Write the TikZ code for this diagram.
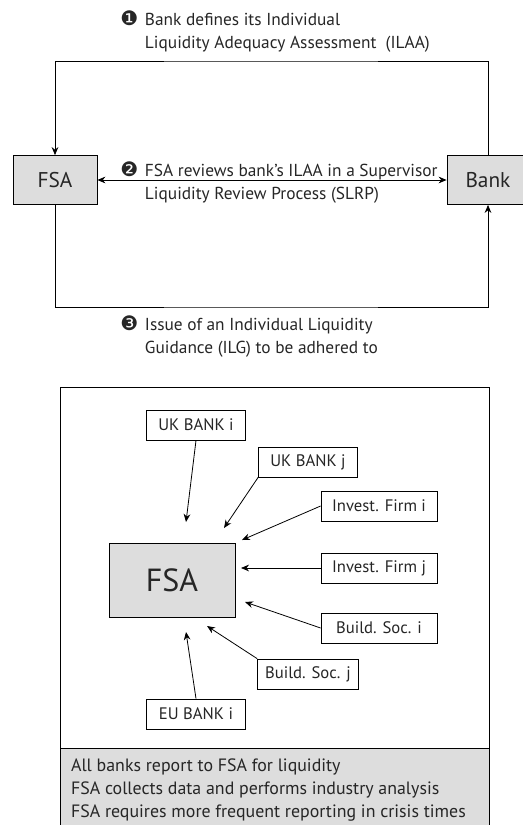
\documentclass[tikz,border=0pt]{standalone}
\usepackage{fontspec}
\setmainfont{PT Sans}
\newfontfamily\symfont{DejaVu Sans}
\usetikzlibrary{arrows.meta}

\definecolor{boxgray}{HTML}{DDDDDD}
\definecolor{inkgray}{HTML}{262626}
\newcommand{\stepmark}[1]{{\symfont\fontsize{15}{15}\selectfont #1}}

\tikzset{
    box/.style={draw, fill=boxgray, minimum width=63pt, minimum height=36.75pt, font=\fontsize{16}{18}\selectfont},
    member/.style={draw, fill=white, minimum height=22.5pt, inner sep=2pt, font=\fontsize{12.5}{14}\selectfont},
    note/.style={inner sep=0pt, anchor=west, font=\fontsize{13}{17.25}\selectfont},
}

\begin{document}
\begin{tikzpicture}[x=0.75pt, y=-0.75pt, >={Stealth[length=6pt,width=5pt]}, text=inkgray, line width=0.6pt]
    \useasboundingbox (0,0) rectangle (523,825);

    % cycle between FSA and bank
    \node[box] (fsa) at (55,180) {FSA};
    \node[box, minimum width=61.5pt] (bank) at (488,180) {Bank};

    \node[note] (stepone) at (120,32) {%
        \begin{tabular}{@{}l@{\hspace{5pt}}l@{}}
            \stepmark{❶} & Bank defines its Individual\\
                         & Liquidity Adequacy Assessment\ \ (ILAA)
        \end{tabular}};
    \node[note] (steptwo) at (120,183) {%
        \begin{tabular}{@{}l@{\hspace{5pt}}l@{}}
            \stepmark{❷} & FSA reviews bank's ILAA in a Supervisor\\
                         & Liquidity Review Process (SLRP)
        \end{tabular}};
    \node[note] (stepthree) at (120,337) {%
        \begin{tabular}{@{}l@{\hspace{5pt}}l@{}}
            \stepmark{❸} & Issue of an Individual Liquidity\\
                         & Guidance (ILG) to be adhered to
        \end{tabular}};

    \coordinate (toprail) at (270,61);
    \coordinate (bottomrail) at (270,307);

    \draw[->] (bank.north) |- (toprail) -| (fsa.north);
    \draw[<->] (fsa.east) -- (bank.west);
    \draw[->] (fsa.south) |- (bottomrail) -| (bank.south);

    % reporting to FSA
    \draw (60,387) rectangle (489,840);
    \draw[fill=boxgray] (60,748) rectangle (489,840);
    \node[anchor=north west, align=left, inner xsep=8pt, inner ysep=7.5pt,
          font=\fontsize{13.4}{17.25}\selectfont] (summary) at (60,748) {%
        All banks report to FSA for liquidity\\
        FSA collects data and performs industry analysis\\
        FSA requires more frequent reporting in crisis times};

    \node[box, minimum width=94.5pt, minimum height=55.5pt, font=\fontsize{24}{26}\selectfont] (fsabig) at (172,580) {FSA};

    \node[member, minimum width=74.25pt] (ukbanki) at (196,425) {UK BANK i};
    \node[member, minimum width=74.25pt] (ukbankj) at (308,462) {UK BANK j};
    \node[member, minimum width=87pt] (investi) at (379,506) {Invest. Firm i};
    \node[member, minimum width=87pt] (investj) at (379,568) {Invest. Firm j};
    \node[member, minimum width=87pt] (buildi) at (379,628) {Build. Soc. i};
    \node[member, minimum width=75.75pt] (buildj) at (308,674) {Build. Soc. j};
    \node[member, minimum width=74.25pt] (eubanki) at (196,714) {EU BANK i};

    \coordinate (tipukbi) at (186,522);
    \coordinate (tipukbj) at (224,528);
    \coordinate (tipinvi) at (242,540);
    \coordinate (tipinvj) at (241,568);
    \coordinate (tipbsi) at (245,602);
    \coordinate (tipbsj) at (207,626);
    \coordinate (tipeubi) at (186,632);

    \draw[->] (ukbanki.south) -- (tipukbi);
    \draw[->] (ukbankj.south west) -- (tipukbj);
    \draw[->] (investi.west) -- (tipinvi);
    \draw[->] (investj.west) -- (tipinvj);
    \draw[->] (buildi.west) -- (tipbsi);
    \draw[->] (buildj.north west) -- (tipbsj);
    \draw[->] (eubanki.north) -- (tipeubi);
\end{tikzpicture}
\end{document}
